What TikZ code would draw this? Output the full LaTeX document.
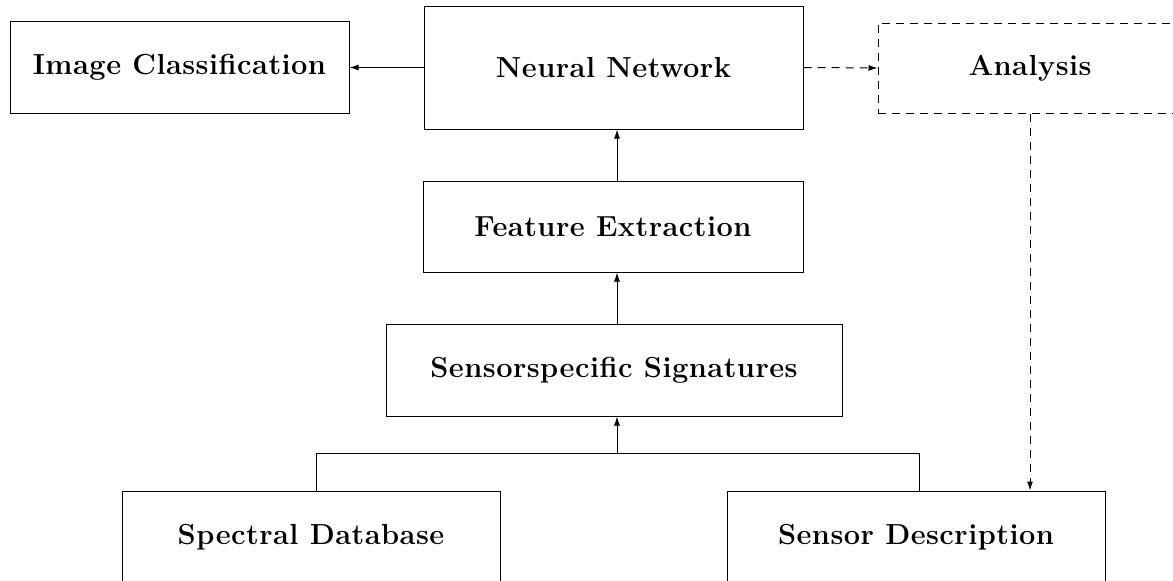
\documentclass[tikz,border=0pt]{standalone}
\usepackage{fontspec}
\newfontfamily\boxfont[LetterSpace=1.6]{Latin Modern Roman}
\usetikzlibrary{arrows.meta}
\begin{document}
\begin{tikzpicture}[x=1pt,y=-1pt,
  box/.style={draw,line width=1pt,rectangle,inner sep=0pt,font=\boxfont\bfseries\fontsize{29}{34}\selectfont},
  arr/.style={line width=1pt,-{Latex[length=9pt,width=6pt]}},
  darr/.style={arr,dash pattern=on 8pt off 6pt},
  ln/.style={line width=1pt}]
\useasboundingbox (0,0) rectangle (1173,581);
\clip (0,0) rectangle (1173,581);
\node[box,minimum width=339pt,minimum height=92pt] (ic) at (179.5,67) {Image Classification};
\node[box,minimum width=379pt,minimum height=123pt] (nn) at (613.5,67.5) {Neural Network};
\node[box,dash pattern=on 8pt off 6pt,minimum width=304pt,minimum height=90pt] (an) at (1030,68) {Analysis};
\node[box,minimum width=380pt,minimum height=91pt] (fe) at (613,226.5) {Feature Extraction};
\node[box,minimum width=456pt,minimum height=92pt] (ss) at (614,370) {Sensorspecific Signatures};
\node[box,minimum width=378pt,minimum height=93pt] (spec) at (311,537.5) {Spectral Database};
\node[box,minimum width=378pt,minimum height=93pt] (sens) at (916,537.5) {Sensor Description};
\coordinate (ja) at (316,453);
\coordinate (jm) at (617,453);
\coordinate (jb) at (919,453);
\draw[arr] (nn.west) -- (nn.west -| ic.east);
\draw[darr] (nn.east) -- (an.west);
\draw[darr] (an.south) -- (an.south |- sens.north);
\draw[arr] (fe.north -| jm) -- (nn.south -| jm);
\draw[arr] (ss.north -| jm) -- (fe.south -| jm);
\draw[ln] (ja |- spec.north) -- (ja) -- (jb) -- (jb |- sens.north);
\draw[arr] (jm) -- (ss.south -| jm);
\end{tikzpicture}
\end{document}
